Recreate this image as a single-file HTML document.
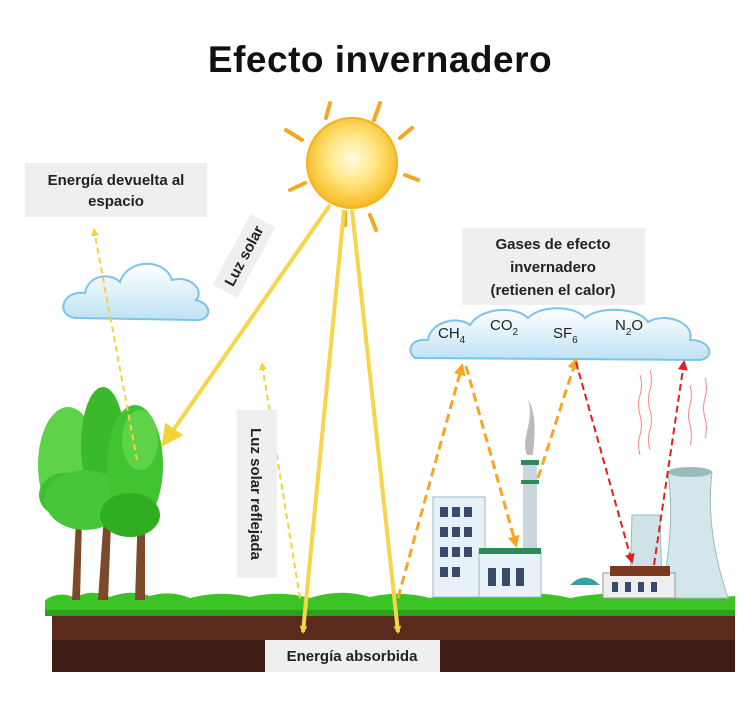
<!DOCTYPE html>
<html><head><meta charset="utf-8"><style>
body{margin:0;background:#fff;}
svg{display:block;font-family:"Liberation Sans",sans-serif;}
</style></head><body>
<svg width="754" height="703" viewBox="0 0 754 703" xmlns="http://www.w3.org/2000/svg">
<defs>
<radialGradient id="sun" cx="50%" cy="45%" r="55%"><stop offset="0" stop-color="#fffbe0"/><stop offset="0.5" stop-color="#ffe680"/><stop offset="1" stop-color="#f8b820"/></radialGradient>
<radialGradient id="glow" cx="50%" cy="50%" r="50%"><stop offset="0.6" stop-color="#fff3c0" stop-opacity="0.8"/><stop offset="1" stop-color="#fff" stop-opacity="0"/></radialGradient>
<linearGradient id="cl" x1="0" y1="0" x2="0" y2="1"><stop offset="0" stop-color="#ffffff"/><stop offset="1" stop-color="#bfe2f5"/></linearGradient>
<marker id="ay" markerWidth="8" markerHeight="8" refX="6" refY="4" orient="auto" markerUnits="userSpaceOnUse"><path d="M0,0 L8,4 L0,8 Z" fill="#f5d23a"/></marker>
<marker id="ayb" markerWidth="22" markerHeight="22" refX="16" refY="11" orient="auto" markerUnits="userSpaceOnUse"><path d="M0,0 L22,11 L0,22 Z" fill="#f5d23a"/></marker>
<marker id="ao" markerWidth="12" markerHeight="12" refX="9" refY="6" orient="auto" markerUnits="userSpaceOnUse"><path d="M0,0 L12,6 L0,12 Z" fill="#f5a623"/></marker>
<marker id="ar" markerWidth="10" markerHeight="10" refX="8" refY="5" orient="auto" markerUnits="userSpaceOnUse"><path d="M0,0 L10,5 L0,10 Z" fill="#e02020"/></marker>
</defs>

<text x="380" y="72" text-anchor="middle" font-size="37" font-weight="bold" fill="#111" letter-spacing="0.5">Efecto invernadero</text>

<circle cx="352" cy="163" r="56" fill="url(#glow)"/>
<g stroke="#f5a623" stroke-width="4" stroke-linecap="round">
<line x1="330" y1="103" x2="326" y2="118"/><line x1="380" y1="103" x2="374" y2="120"/>
<line x1="412" y1="128" x2="400" y2="138"/><line x1="418" y1="180" x2="405" y2="175"/>
<line x1="376" y1="230" x2="370" y2="215"/><line x1="290" y1="190" x2="305" y2="183"/>
<line x1="286" y1="130" x2="302" y2="140"/><line x1="345" y1="225" x2="345" y2="212"/>
</g>
<circle cx="352" cy="163" r="45" fill="url(#sun)" stroke="#f5b020" stroke-width="2"/>

<rect x="25" y="163" width="182" height="54" fill="#efefef"/>
<text x="116" y="185" text-anchor="middle" font-size="15" font-weight="bold" fill="#222">Energía devuelta al</text>
<text x="116" y="206" text-anchor="middle" font-size="15" font-weight="bold" fill="#222">espacio</text>

<g fill="url(#cl)" stroke="#7cc3e8" stroke-width="2">
<path d="M75,318 C55,315 62,290 85,293 C88,275 110,272 120,282 C128,258 165,258 172,280 C190,275 205,290 196,300 C215,305 210,322 195,320 Z"/>
</g>

<rect x="52" y="610" width="683" height="62" fill="#5a2a1c"/>
<rect x="52" y="640" width="683" height="32" fill="#3d1d14"/>
<path d="M45,614 L45,600 Q60,590 75,598 Q90,588 110,597 Q130,589 150,596 Q170,590 190,598 Q220,590 250,597 Q280,590 310,598 Q340,588 370,597 Q400,590 430,598 Q470,588 500,597 Q540,590 570,598 Q610,590 640,597 Q680,590 710,598 L735,596 L735,616 Z" fill="#3cc427"/>
<path d="M45,616 L735,616 L735,610 L45,610 Z" fill="#2e9e1c"/>

<g>
<path d="M72,600 L76,520 L82,520 L80,600 Z" fill="#7a4a2a"/>
<path d="M98,600 L105,500 L112,500 L108,600 Z" fill="#7a4a2a"/>
<path d="M135,600 L138,510 L145,510 L145,600 Z" fill="#7a4a2a"/>
<ellipse cx="68" cy="465" rx="30" ry="58" fill="#5ed34a"/>
<ellipse cx="65" cy="495" rx="26" ry="22" fill="#3fbf30"/>
<ellipse cx="103" cy="445" rx="22" ry="58" fill="#3cb82c"/>
<ellipse cx="85" cy="500" rx="40" ry="30" fill="#47c63a"/>
<ellipse cx="135" cy="465" rx="28" ry="60" fill="#42c331"/>
<ellipse cx="140" cy="440" rx="18" ry="30" fill="#5ed34a"/>
<ellipse cx="130" cy="515" rx="30" ry="22" fill="#2fae22"/>
</g>

<g fill="url(#cl)" stroke="#7cc3e8" stroke-width="2">
<path d="M415,358 C405,350 412,338 428,340 C430,322 458,315 470,325 C480,308 515,305 528,318 C540,305 575,305 585,318 C600,305 640,308 648,322 C665,312 695,322 690,340 C712,340 715,358 700,360 Z"/>
</g>
<g font-size="15" fill="#222">
<text x="438" y="338">CH<tspan font-size="10" dy="5">4</tspan></text>
<text x="490" y="330">CO<tspan font-size="10" dy="5">2</tspan></text>
<text x="553" y="338">SF<tspan font-size="10" dy="5">6</tspan></text>
<text x="615" y="330">N<tspan font-size="10" dy="5">2</tspan><tspan dy="-5">O</tspan></text>
</g>

<rect x="462" y="228" width="183" height="77" fill="#efefef"/>
<text x="553" y="249" text-anchor="middle" font-size="15" font-weight="bold" fill="#222">Gases de efecto</text>
<text x="553" y="272" text-anchor="middle" font-size="15" font-weight="bold" fill="#222">invernadero</text>
<text x="553" y="295" text-anchor="middle" font-size="15" font-weight="bold" fill="#222">(retienen el calor)</text>

<rect x="433" y="497" width="52" height="100" fill="#e8f1f7" stroke="#9bb" stroke-width="1"/>
<g fill="#3b4a6a">
<rect x="440" y="507" width="8" height="10"/><rect x="452" y="507" width="8" height="10"/><rect x="464" y="507" width="8" height="10"/>
<rect x="440" y="527" width="8" height="10"/><rect x="452" y="527" width="8" height="10"/><rect x="464" y="527" width="8" height="10"/>
<rect x="440" y="547" width="8" height="10"/><rect x="452" y="547" width="8" height="10"/><rect x="464" y="547" width="8" height="10"/>
<rect x="440" y="567" width="8" height="10"/><rect x="452" y="567" width="8" height="10"/>
</g>
<rect x="523" y="460" width="14" height="95" fill="#c8d6de"/>
<rect x="521" y="460" width="18" height="5" fill="#2f8a5a"/>
<rect x="521" y="480" width="18" height="4" fill="#2f8a5a"/>
<path d="M527,455 C520,440 535,420 528,400 C538,415 534,440 533,455 Z" fill="#bbb"/>
<rect x="479" y="550" width="62" height="47" fill="#e8f1f7" stroke="#9bb"/>
<rect x="479" y="548" width="62" height="6" fill="#2f8a5a"/>
<g fill="#3b4a6a"><rect x="488" y="568" width="8" height="18"/><rect x="502" y="568" width="8" height="18"/><rect x="516" y="568" width="8" height="18"/></g>
<path d="M668,472 L712,472 Q705,530 728,598 L660,598 Q676,530 668,472 Z" fill="#d2e6ec" stroke="#9bb"/>
<ellipse cx="690" cy="472" rx="22" ry="5" fill="#9bb"/>
<path d="M632,515 L660,515 L662,590 L630,590 Z" fill="#cfe2e8" stroke="#9bb"/>
<rect x="603" y="573" width="72" height="25" fill="#eee" stroke="#999"/>
<rect x="610" y="566" width="60" height="10" fill="#7a3a20"/>
<g fill="#3b4a6a"><rect x="612" y="582" width="6" height="10"/><rect x="625" y="582" width="6" height="10"/><rect x="638" y="582" width="6" height="10"/><rect x="651" y="582" width="6" height="10"/></g>
<path d="M570,585 Q585,570 600,585 Z" fill="#3aa0a0"/>
<g stroke="#e88" stroke-width="1" fill="none">
<path d="M640,375 q3,10 0,20 q-3,10 0,20 q3,10 0,20 q-3,10 0,20"/>
<path d="M650,370 q3,10 0,20 q-3,10 0,20 q3,10 0,20 q-3,10 0,20"/>
<path d="M690,385 q3,10 0,20 q-3,10 0,20 q3,10 0,20"/>
<path d="M705,378 q3,10 0,20 q-3,10 0,20 q3,10 0,20"/>
</g>

<g stroke="#f7d54a" stroke-width="4" fill="none">
<line x1="330" y1="205" x2="165" y2="442" marker-end="url(#ayb)"/>
<line x1="344" y1="210" x2="303" y2="632" marker-end="url(#ay)"/>
<line x1="352" y1="210" x2="398" y2="632" marker-end="url(#ay)"/>
</g>
<g stroke="#f5d23a" stroke-width="2" stroke-dasharray="6,4" fill="none">
<line x1="300" y1="598" x2="262" y2="364" marker-end="url(#ay)"/>
<line x1="137" y1="460" x2="94" y2="230" marker-end="url(#ay)"/>
</g>
<g stroke="#f5a623" stroke-width="3" stroke-dasharray="9,5" fill="none">
<line x1="398" y1="598" x2="462" y2="366" marker-end="url(#ao)"/>
<line x1="466" y1="366" x2="516" y2="545" marker-end="url(#ao)"/>
<line x1="538" y1="478" x2="576" y2="360" marker-end="url(#ao)"/>
</g>
<g stroke="#e02020" stroke-width="2" stroke-dasharray="7,4" fill="none">
<line x1="576" y1="362" x2="632" y2="562" marker-end="url(#ar)"/>
<line x1="654" y1="565" x2="684" y2="362" marker-end="url(#ar)"/>
</g>

<g transform="translate(244,256) rotate(-62)">
<rect x="-40" y="-14" width="80" height="28" fill="#efefef"/>
<text x="0" y="5" text-anchor="middle" font-size="15" font-weight="bold" fill="#222">Luz solar</text>
</g>
<g transform="translate(257,494) rotate(90)">
<rect x="-84" y="-20" width="168" height="40" fill="#efefef"/>
<text x="0" y="6" text-anchor="middle" font-size="15" font-weight="bold" fill="#222">Luz solar reflejada</text>
</g>

<rect x="265" y="640" width="175" height="32" fill="#efefef"/>
<text x="352" y="661" text-anchor="middle" font-size="15" font-weight="bold" fill="#222">Energía absorbida</text>
</svg>
</body></html>
